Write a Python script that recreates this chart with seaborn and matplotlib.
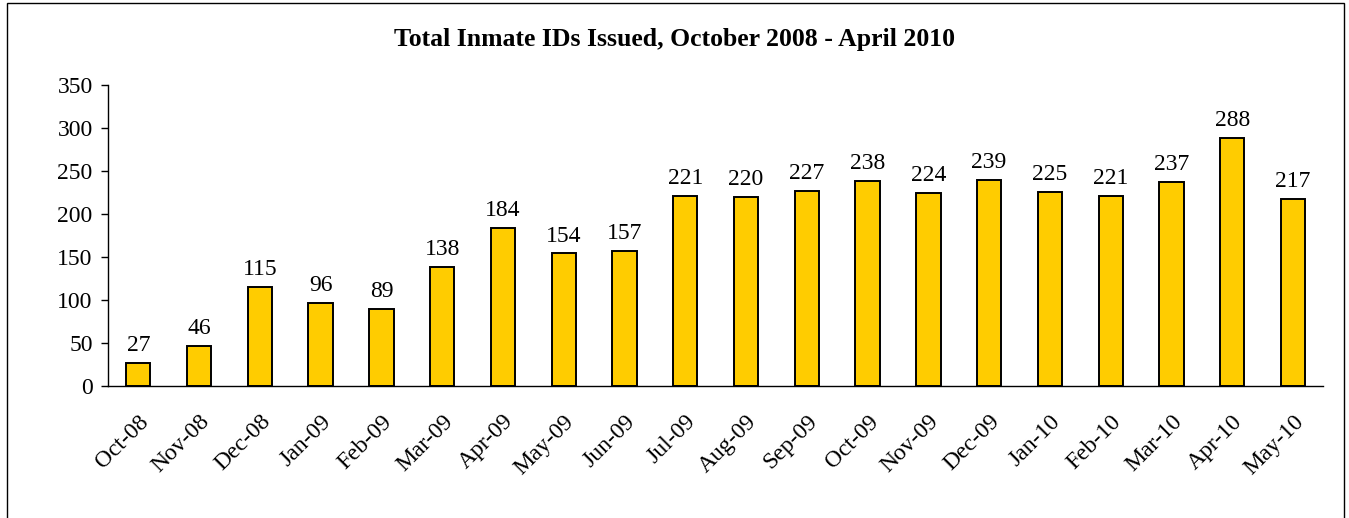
import matplotlib
matplotlib.use("Agg")
from matplotlib import pyplot as plt
from matplotlib.patches import Rectangle
import seaborn as sns
import numpy as np

months = ['Oct-08', 'Nov-08', 'Dec-08', 'Jan-09', 'Feb-09', 'Mar-09', 'Apr-09',
          'May-09', 'Jun-09', 'Jul-09', 'Aug-09', 'Sep-09', 'Oct-09', 'Nov-09',
          'Dec-09', 'Jan-10', 'Feb-10', 'Mar-10', 'Apr-10', 'May-10']
ids_issued = [27, 46, 115, 96, 89, 138, 184, 154, 157, 221, 220, 227, 238, 224,
              239, 225, 221, 237, 288, 217]
y_ticks = [0, 50, 100, 150, 200, 250, 300, 350]

sns.set_style('white')
plt.rcParams['font.family'] = ['Liberation Serif', 'DejaVu Serif']
plt.rcParams['text.color'] = 'black'
plt.rcParams['xtick.color'] = 'black'
plt.rcParams['ytick.color'] = 'black'

fig = plt.figure(figsize=(13.49, 5.18), dpi=100)
ax = fig.add_axes([0.080, 0.255, 0.901, 0.581])

sns.barplot(x=months, y=ids_issued, color='#FFCC00', width=0.4,
            edgecolor='black', linewidth=1.4, saturation=1, ax=ax)

for i, v in enumerate(ids_issued):
    ax.annotate(str(v), (i, v), xytext=(0, 5), textcoords='offset points',
                ha='center', va='bottom', fontsize=17)

ax.set_ylim(0, 350)
ax.set_xlim(-0.5, len(months) - 0.5)
ax.set_yticks(y_ticks)
ax.set_yticklabels([str(t) for t in y_ticks], fontsize=17)
ax.set_xticks(range(len(months)))
ax.set_xticklabels(months, rotation=45, ha='right', rotation_mode='anchor', fontsize=17)
ax.set_xticks(np.arange(-0.5, len(months)), minor=True)
ax.tick_params(axis='x', which='major', length=0, pad=18)
ax.tick_params(axis='x', which='minor', length=5, width=1, color='black', direction='out')
ax.tick_params(axis='y', length=5, width=1, color='black', direction='out', left=True, pad=6)

for side in ['top', 'right']:
    ax.spines[side].set_visible(False)
for side in ['left', 'bottom']:
    ax.spines[side].set_color('black')
    ax.spines[side].set_linewidth(1)

fig.text(0.5, 0.923, 'Total Inmate IDs Issued, October 2008 - April 2010',
         ha='center', va='center', fontsize=18.5, fontweight='bold')

fig.patches.append(Rectangle((7 / 1349, -0.05), 1337 / 1349, 1.05 - 3 / 518,
                             transform=fig.transFigure, fill=False,
                             edgecolor='black', linewidth=1))

fig.savefig('out.png', dpi=100)
